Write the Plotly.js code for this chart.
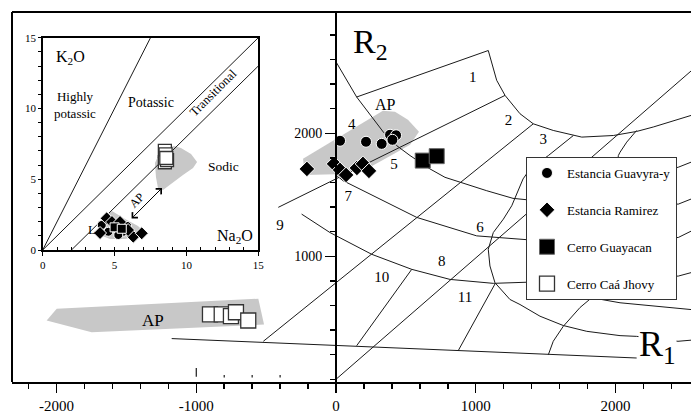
<!DOCTYPE html>
<html><head><meta charset="utf-8">
<script src="https://cdn.plot.ly/plotly-3.0.1.min.js"></script>
<style>html,body{margin:0;padding:0;background:#fff}#chart{width:691px;height:416px}</style>
</head><body><div id="chart"></div>
<script>
// ===== Main R1-R2 diagram: samples =====
const guavyraX = [29, 215, 327, 387, 430, 404];
const guavyraY = [1939, 1931, 1914, 1988, 1984, 1947];
const ramirezX = [-208, -14, 29, 72, 150, 193, 236];
const ramirezY = [1710, 1751, 1702, 1661, 1718, 1751, 1694];
const guayacanX = [621, 721];
const guayacanY = [1778, 1814];
const caaJhovyX = [-902, -818, -752, -716, -628];
const caaJhovyY = [527, 527, 513, 545, 478];
const seriesNames = ['Estancia Guavyra-y', 'Estancia Ramirez', 'Cerro Guayacan', 'Cerro Caá Jhovy'];

// ===== Main diagram: field boundaries =====
const lineAX = [0, 148, 339, 434, 530, 673, 780, 1079, 1267, 1389, 1890, 2450, 2541];
const lineAY = [2581, 2295, 2010, 1900, 1819, 1710, 1642, 1533, 1471, 1457, 1441, 1424, 1465];
const line1X = [148, 1090];
const line1Y = [2295, 2673];
const line2X = [1090, 1150, 1210, 1317, 1412, 1555, 1759, 1985, 2152, 2271, 2541];
const line2Y = [2673, 2431, 2308, 2159, 2077, 2023, 1969, 1982, 2015, 2051, 2145];
const line3X = [-413, 1210];
const line3Y = [1398, 2308];
const line4X = [1412, -520];
const line4Y = [2077, 309];
const line5X = [1699, 1520, 1389, 1339, 1258, 1198, 1126, 1090, 1102, 1138, 1245, 1317, 1460, 1627, 1795, 2033, 2152, 2300, 2448, 2541];
const line5Y = [1982, 1819, 1710, 1629, 1411, 1302, 1193, 1057, 921, 785, 649, 608, 513, 437, 390, 355, 349, 330, 309, 318];
const diagX = [0, 2541];
const diagY = [0, 2506];
const curve6X = [0, 50, 315, 578, 1007, 1389, 1890, 2450, 2541];
const curve6Y = [1661, 1615, 1465, 1316, 1166, 1133, 1131, 1153, 1204];
const curve8X = [-246, -138, -43, 256, 542, 816, 1126, 1389, 1890, 2450, 2541];
const curve8Y = [1343, 1261, 1193, 1016, 894, 812, 780, 790, 812, 839, 867];
const baseX = [-1176, 2152];
const baseY = [331, 173];
const line10X = [148, 542];
const line10Y = [273, 894];
const line11X = [875, 1138];
const line11Y = [233, 775];
const wiggleX = [1520, 1555, 1627, 1747, 1830, 1961, 2021, 2033, 2081, 2152];
const wiggleY = [200, 309, 431, 584, 663, 1220, 1819, 1846, 1928, 2023];
const lowRightX = [1830, 2033, 2541];
const lowRightY = [663, 622, 567];
const upRightX = [2248, 2450, 2541];
const upRightY = [1669, 1724, 1765];
const stubX = [-1000, -1000, null, -800, -800, null, -600, -600, null, -400, -400];
const stubY = [20, 92, null, 15, 35, null, 15, 35, null, 15, 35];

// ===== Main diagram: AP fields =====
const apUpperX = [-236, 336, 422, 515, 594, 530, 387, 258, 64, -222];
const apUpperY = [1792, 2184, 2175, 2110, 2012, 1906, 1816, 1735, 1669, 1661];
const apLowerX = [-2071, -1999, -556, -515, -1749];
const apLowerY = [478, 573, 655, 445, 382];

// ===== Field numbers =====
const fieldX = [978, 1234, 1484, 112, 415, 1031, 88, 757, -401, 327, 923];
const fieldY = [2445, 2096, 1941, 2069, 1743, 1229, 1479, 948, 1242, 818, 655];
const fieldText = ['1', '2', '3', '4', '5', '6', '7', '8', '9', '10', '11'];

// ===== Axis ticks =====
const xTickVals = [-2000, -1000, 0, 1000, 2000];
const xTickText = ['-2000', '-1000', '0', '1000', '2000'];
const yTickVals = [1000, 2000];
const yTickText = ['1000', '2000'];
const insetTickVals = [0, 5, 10, 15];

// ===== Inset K2O vs Na2O =====
const inLine1X = [0, 7.5], inLine1Y = [0, 15];
const inLine2X = [0, 15], inLine2Y = [0, 15];
const inLine3X = [2, 15], inLine3Y = [0, 13];
const inApUpX = [7.81, 8.16, 8.65, 9.14, 9.62, 10.32, 10.74, 10.46, 9.76, 9.00, 8.37, 8.02, 7.88];
const inApUpY = [6.15, 6.93, 7.21, 7.35, 7.21, 6.78, 6.22, 5.80, 5.30, 4.73, 4.24, 4.38, 5.16];
const inApLowX = [4.34, 4.82, 5.73, 6.63, 6.98, 6.63, 5.73, 4.68, 3.99, 3.85];
const inApLowY = [2.47, 2.76, 2.19, 1.70, 1.34, 0.99, 0.78, 0.78, 1.06, 1.70];
const inGuavyraX = [4.11, 4.57, 5.15, 5.61, 5.26, 5.87];
const inGuavyraY = [1.77, 1.29, 1.53, 1.29, 1.06, 1.70];
const inRamirezX = [4.45, 3.99, 4.82, 6.30, 6.89, 5.94, 5.38];
const inRamirezY = [2.24, 1.20, 1.98, 0.94, 1.18, 1.41, 1.98];
const inGuayacanX = [5.0, 5.5];
const inGuayacanY = [1.6, 1.5];
const inCaaX = [8.5, 8.55, 8.5, 8.65, 8.6];
const inCaaY = [7.0, 6.75, 6.2, 6.35, 6.5];

const xr = [-2319, 2541], yr = [-22, 2986];
const LC = '#1a1a1a';
const traces = [];
function region(x, y, xa, ya) {
  traces.push({x: x.concat([x[0]]), y: y.concat([y[0]]), xaxis: xa, yaxis: ya, mode: 'lines', fill: 'toself',
    fillcolor: '#c8c8c8', line: {width: 0, color: '#c8c8c8'}, hoverinfo: 'skip', showlegend: false});
}
function line(x, y, xa, ya, w) {
  traces.push({x: x, y: y, xaxis: xa, yaxis: ya, mode: 'lines', line: {color: LC, width: w || 1},
    hoverinfo: 'skip', showlegend: false, connectgaps: false});
}
region(apUpperX, apUpperY, 'x', 'y');
region(apLowerX, apLowerY, 'x', 'y');
region(inApUpX, inApUpY, 'x2', 'y2');
region(inApLowX, inApLowY, 'x2', 'y2');
[[lineAX, lineAY], [line1X, line1Y], [line2X, line2Y], [line3X, line3Y], [line4X, line4Y], [line5X, line5Y],
 [diagX, diagY], [curve6X, curve6Y], [curve8X, curve8Y], [baseX, baseY], [line10X, line10Y], [line11X, line11Y],
 [wiggleX, wiggleY], [lowRightX, lowRightY], [upRightX, upRightY]].forEach(p => line(p[0], p[1], 'x', 'y', 1));
line(stubX, stubY, 'x', 'y', 1.2);
[[inLine1X, inLine1Y], [inLine2X, inLine2Y], [inLine3X, inLine3Y]].forEach(p => line(p[0], p[1], 'x2', 'y2', 1));

traces.push({x: fieldX, y: fieldY, mode: 'text', text: fieldText, textfont: {size: 15, color: '#000'},
  hoverinfo: 'skip', showlegend: false});

const styles = [
  {symbol: 'circle', size: 11, color: '#000', line: {color: '#fff', width: 1}},
  {symbol: 'diamond', size: 12, color: '#000', line: {color: '#fff', width: 1}},
  {symbol: 'square', size: 15, color: '#000', line: {color: '#666', width: 1}},
  {symbol: 'square', size: 15, color: '#fff', line: {color: '#333', width: 1.3}}
];
const inStyles = [
  {symbol: 'circle', size: 9, color: '#000', line: {color: '#fff', width: 1}},
  {symbol: 'diamond', size: 10, color: '#000', line: {color: '#fff', width: 1}},
  {symbol: 'square', size: 9, color: '#000', line: {color: '#fff', width: 1}},
  {symbol: 'square', size: 13, color: '#fff', line: {color: '#333', width: 1.3}}
];
const mainSets = [[guavyraX, guavyraY], [ramirezX, ramirezY], [guayacanX, guayacanY], [caaJhovyX, caaJhovyY]];
const inSets = [[inGuavyraX, inGuavyraY], [inRamirezX, inRamirezY], [inGuayacanX, inGuayacanY], [inCaaX, inCaaY]];
inSets.forEach((s, i) => traces.push({x: s[0], y: s[1], xaxis: 'x2', yaxis: 'y2', mode: 'markers',
  marker: inStyles[i], showlegend: false, hoverinfo: 'skip'}));
mainSets.forEach((s, i) => traces.push({x: s[0], y: s[1], mode: 'markers', name: seriesNames[i],
  legendgroup: 'g' + i, marker: styles[i], hoverinfo: 'skip'}));

const ann = [];
function txt(x, y, t, size, opts) {
  ann.push(Object.assign({x: x, y: y, text: t, showarrow: false, font: {size: size, color: '#000'}}, opts || {}));
}
txt(107, 2726, 'R<sub>2</sub>', 34, {xanchor: 'left', yanchor: 'middle'});
txt(2162, 263, 'R<sub>1</sub>', 36, {xanchor: 'left', yanchor: 'middle', bgcolor: '#fff', borderpad: 0});
txt(351, 2230, 'AP', 16);
txt(-1308, 482, 'AP', 17);
const i2 = {xref: 'x2', yref: 'y2'};
txt(1.9, 13.57, 'K<sub>2</sub>O', 16, i2);
txt(2.25, 10.25, 'Highly<br>potassic', 13, i2);
txt(7.54, 10.39, 'Potassic', 14, i2);
txt(11.85, 11.1, 'Transitional', 12.5, Object.assign({textangle: -45}, i2));
txt(12.55, 5.87, 'Sodic', 13.5, i2);
txt(13.38, 0.92, 'Na<sub>2</sub>O', 16, i2);
txt(3.43, 1.48, 'L', 13, i2);
txt(6.57, 3.53, 'AP', 12, Object.assign({textangle: -45}, i2));
ann.push({xref: 'x2', yref: 'y2', axref: 'x2', ayref: 'y2', x: 8.30, y: 4.38, ax: 6.08, ay: 2.12, text: '',
  showarrow: true, arrowhead: 4, startarrowhead: 4, arrowside: 'end+start', arrowwidth: 1, arrowsize: 1.5,
  startarrowsize: 1.5, arrowcolor: '#000', standoff: 0, startstandoff: 0});

const P = 679, PH = 370;
const layout = {
  width: 691, height: 416,
  margin: {l: 12, r: 0, t: 12, b: 34, pad: 0},
  paper_bgcolor: '#fff', plot_bgcolor: '#fff',
  font: {family: 'Liberation Serif, Times New Roman, serif', color: '#000'},
  showlegend: true,
  legend: {x: (526 - 12) / P, y: (382 - 157) / PH, xanchor: 'left', yanchor: 'top', bgcolor: '#fff',
    bordercolor: '#333', borderwidth: 1, font: {size: 13}, tracegroupgap: 17, traceorder: 'grouped'},
  xaxis: {range: xr, domain: [0, 1], showgrid: false, zeroline: false, showline: true, linecolor: '#000', linewidth: 2,
    ticks: 'outside', ticklen: 9, tickwidth: 1.5, tickcolor: '#000', tickmode: 'array', tickvals: xTickVals,
    ticktext: xTickText, tickfont: {size: 15}, ticklabelstandoff: 0,
    minor: {tickmode: 'linear', tick0: 0, dtick: 200, ticks: 'outside', ticklen: 5, tickwidth: 1.5, tickcolor: '#000', showgrid: false}},
  yaxis: {range: yr, anchor: 'free', position: (0 - xr[0]) / (xr[1] - xr[0]), showgrid: false, zeroline: false,
    showline: true, linecolor: '#000', linewidth: 2, ticks: 'outside', ticklen: 10, tickwidth: 1.5, tickcolor: '#000',
    tickmode: 'array', tickvals: yTickVals, ticktext: yTickText, tickfont: {size: 14},
    minor: {tickmode: 'linear', tick0: 0, dtick: 200, ticks: 'outside', ticklen: 5, tickwidth: 1.5, tickcolor: '#000', showgrid: false}},
  xaxis2: {domain: [(42.7 - 12) / P, (258.3 - 12) / P], anchor: 'y2', range: [0, 15], showgrid: false, zeroline: false,
    showline: true, mirror: true, linecolor: '#000', linewidth: 1.5, ticks: 'outside', ticklen: 4, tickwidth: 1,
    tickcolor: '#000', tickmode: 'array', tickvals: insetTickVals, tickfont: {size: 11},
    minor: {tickmode: 'linear', tick0: 0, dtick: 1, ticks: 'inside', ticklen: 3, tickwidth: 1, tickcolor: '#000', showgrid: false}},
  yaxis2: {domain: [(382 - 250) / PH, (382 - 37.7) / PH], anchor: 'x2', range: [0, 15], showgrid: false, zeroline: false,
    showline: true, mirror: true, linecolor: '#000', linewidth: 1.5, ticks: 'outside', ticklen: 3, tickwidth: 1,
    tickcolor: '#000', tickmode: 'array', tickvals: insetTickVals, tickfont: {size: 11},
    minor: {tickmode: 'linear', tick0: 0, dtick: 1, ticks: 'outside', ticklen: 3, tickwidth: 1, tickcolor: '#000', showgrid: false}},
  shapes: [
    {type: 'line', xref: 'paper', yref: 'paper', x0: 0, x1: 1, y0: 1, y1: 1, line: {color: '#000', width: 2}},
    {type: 'line', xref: 'paper', yref: 'paper', x0: 0, x1: 0, y0: 0, y1: 1, line: {color: '#000', width: 2}}
  ],
  annotations: ann
};
Plotly.newPlot('chart', traces, layout, {staticPlot: true, displayModeBar: false});
</script></body></html>
